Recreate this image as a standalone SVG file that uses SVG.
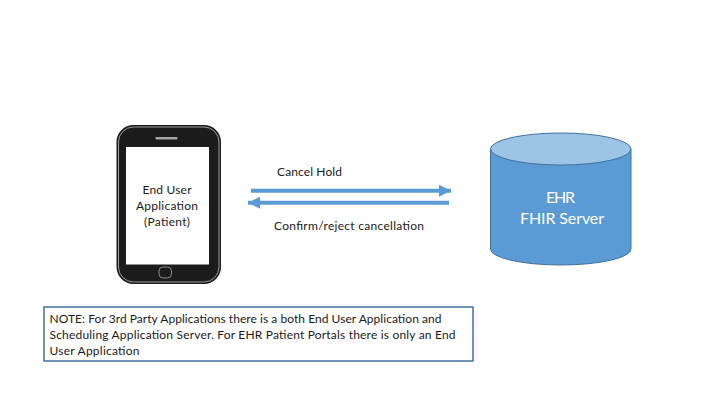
<svg xmlns="http://www.w3.org/2000/svg" width="720" height="405" viewBox="0 0 720 405">
<style>
text{font-family:"Lato","Open Sans","Liberation Sans",sans-serif;fill:#1a1a1a;font-size:12px}
.c{text-anchor:middle}
.w{fill:#fff;font-size:16px}
.conn{stroke:#5b9bd5;stroke-width:4;fill:none}
</style>
<defs>
<marker id="ah" markerUnits="userSpaceOnUse" markerWidth="12" markerHeight="12" refX="12" refY="6" orient="auto"><path d="M0 0L12 6L0 12Z" fill="#5b9bd5"/></marker>
</defs>
<rect width="720" height="405" fill="#fff"/>
<g id="phone">
<rect x="116.5" y="125" width="104.500" height="159" rx="17" fill="#1c1c1c"/>
<rect x="118.500" y="127" width="100.500" height="155" rx="15" fill="none" stroke="#9a9a9a" stroke-width="1"/>
<rect x="126" y="147" width="83" height="117.500" fill="#fff"/>
<rect x="155.500" y="137" width="22" height="2.500" rx="1" fill="#a6a6a6"/>
<rect x="159" y="267" width="12.500" height="11" rx="4" fill="#1c1c1c" stroke="#a6a6a6" stroke-width="0.800"/>
<text class="c" x="167" y="194" textLength="49">End User</text>
<text class="c" x="167" y="210" textLength="62">Application</text>
<text class="c" x="167" y="226" textLength="46">(Patient)</text>
</g>
<g id="server">
<path d="M490.500 149V249A70.250 16 0 0 0 631 249V149Z" fill="#5b9bd5" stroke="#41719c"/>
<ellipse cx="560.750" cy="149" rx="70.250" ry="16" fill="#9dc3e6" stroke="#41719c"/>
<text class="c w" x="560.500" y="203" textLength="29">EHR</text>
<text class="c w" x="562" y="224" textLength="84">FHIR Server</text>
</g>
<g id="connectors">
<path class="conn" d="M251 190.700H451" marker-end="url(#ah)"/>
<path class="conn" d="M449 202.700H248" marker-end="url(#ah)"/>
</g>
<g id="label-cancel"><text x="277" y="176" textLength="65">Cancel Hold</text></g>
<g id="label-confirm"><text x="274" y="230" textLength="150">Confirm/reject cancellation</text></g>
<g id="note">
<rect x="44" y="307" width="429" height="54" fill="#fff" stroke="#41719c" stroke-width="1.500"/>
<text x="49.500" y="323" textLength="392">NOTE: For 3rd Party Applications there is a both End User Application and</text>
<text x="49.500" y="339" textLength="406">Scheduling Application Server. For EHR Patient Portals there is only an End</text>
<text x="49.500" y="355" textLength="90">User Application</text>
</g>
</svg>
